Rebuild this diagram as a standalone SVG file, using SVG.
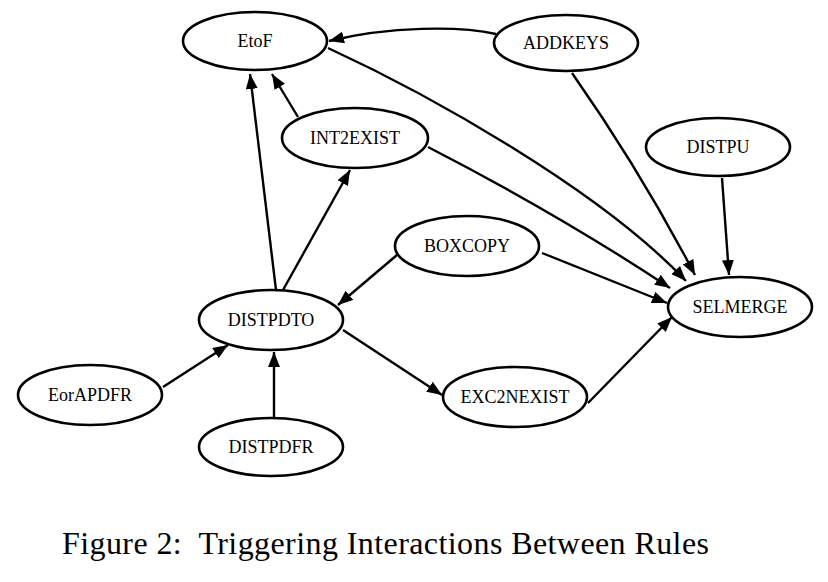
<svg xmlns="http://www.w3.org/2000/svg" width="828" height="582" viewBox="0 0 828 582">
<style>
.n ellipse{fill:#fff;stroke:#000;stroke-width:2.6}
.n text{font-family:"Liberation Serif","Times New Roman",serif;font-size:18px;text-anchor:middle;fill:#000}
.e path{fill:none;stroke:#000;stroke-width:2.4;marker-end:url(#ah)}
.cap{font-family:"Liberation Serif","Times New Roman",serif;font-size:32px;fill:#000}
</style>
<defs>
<marker id="ah" markerUnits="userSpaceOnUse" markerWidth="16" markerHeight="12" refX="15" refY="6" orient="auto">
<path d="M0,0 L15,6 L0,12 Z" fill="#000"/>
</marker>
</defs>
<rect width="828" height="582" fill="#fff"/>
<g class="e" id="edges">
<path d="M496,34 C460,26 390,26 329,41"/>
<path d="M328,48 C430,95 600,190 686,281"/>
<path d="M298,117 L272,74"/>
<path d="M276,290 L250,74"/>
<path d="M283,290 L350,170"/>
<path d="M428,147 Q560,215 670,288"/>
<path d="M572,73 Q640,170 695,275"/>
<path d="M722,178 L729,275"/>
<path d="M542,253 L667,303"/>
<path d="M397,255 L338,305"/>
<path d="M343,330 L442,395"/>
<path d="M588,403 L672,317"/>
<path d="M163,387 L228,345"/>
<path d="M274,417 L274,352"/>
</g>
<g class="n" id="EtoF"><ellipse cx="255" cy="41" rx="72" ry="29"/><text x="255" y="47">EtoF</text></g>
<g class="n" id="ADDKEYS"><ellipse cx="566" cy="43" rx="72" ry="28"/><text x="566" y="49">ADDKEYS</text></g>
<g class="n" id="INT2EXIST"><ellipse cx="355" cy="138" rx="73" ry="30"/><text x="355" y="144">INT2EXIST</text></g>
<g class="n" id="DISTPU"><ellipse cx="718" cy="147" rx="72" ry="29"/><text x="718" y="153">DISTPU</text></g>
<g class="n" id="BOXCOPY"><ellipse cx="467" cy="246" rx="72" ry="30"/><text x="467" y="252">BOXCOPY</text></g>
<g class="n" id="SELMERGE"><ellipse cx="740" cy="307" rx="72" ry="30"/><text x="740" y="313">SELMERGE</text></g>
<g class="n" id="DISTPDTO"><ellipse cx="271" cy="320" rx="72" ry="30"/><text x="271" y="326">DISTPDTO</text></g>
<g class="n" id="EXC2NEXIST"><ellipse cx="515" cy="397" rx="72" ry="30"/><text x="515" y="403">EXC2NEXIST</text></g>
<g class="n" id="EorAPDFR"><ellipse cx="90" cy="395" rx="72" ry="30"/><text x="90" y="401">EorAPDFR</text></g>
<g class="n" id="DISTPDFR"><ellipse cx="271" cy="447" rx="72" ry="29"/><text x="271" y="453">DISTPDFR</text></g>
<text class="cap" x="62" y="554" textLength="647" lengthAdjust="spacing">Figure 2:&#160; Triggering Interactions Between Rules</text>
</svg>
